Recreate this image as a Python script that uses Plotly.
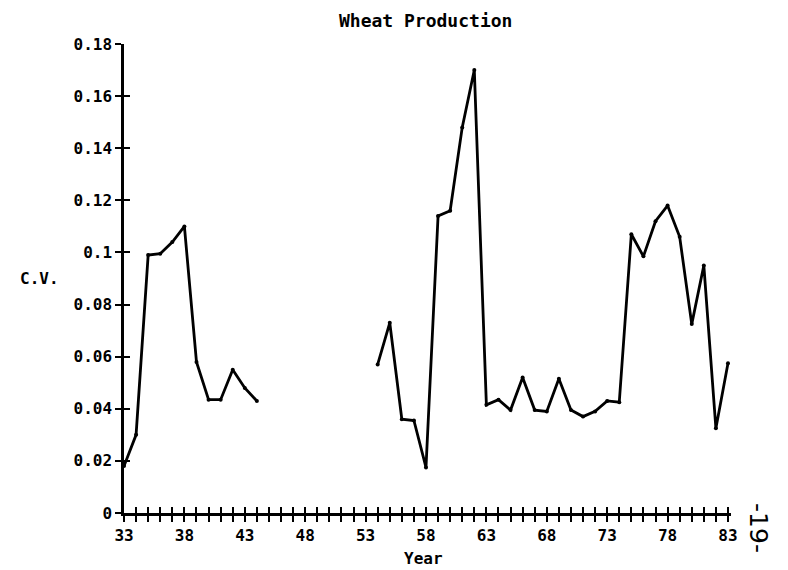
import plotly.graph_objects as go

years = list(range(33, 84))
cv = [0.018, 0.030, 0.099, 0.0995, 0.104, 0.110, 0.058, 0.0435, 0.0435, 0.055, 0.048, 0.043,
      None, None, None, None, None, None, None, None, None,
      0.057, 0.073, 0.036, 0.0355, 0.0175, 0.114, 0.116, 0.148, 0.170, 0.0415, 0.0435, 0.0395,
      0.052, 0.0395, 0.039, 0.0515, 0.0395, 0.037, 0.039, 0.043, 0.0425, 0.107, 0.0985, 0.112,
      0.118, 0.106, 0.0725, 0.095, 0.0325, 0.0575]
x_labels = [str(y) if (y - 33) % 5 == 0 else "" for y in years]
y_ticks = [0, 0.02, 0.04, 0.06, 0.08, 0.1, 0.12, 0.14, 0.16, 0.18]
y_labels = ["0", "0.02", "0.04", "0.06", "0.08", "0.1", "0.12", "0.14", "0.16", "0.18"]

MONO = "DejaVu Sans Mono"
tickfont = dict(family=MONO, size=16, color="black", weight=700)
X_RANGE = [33, 83.25]

fig = go.Figure()
fig.add_trace(go.Scatter(x=years, y=cv, mode="lines+markers",
                         line=dict(color="black", width=2.8),
                         marker=dict(size=4, color="black"),
                         connectgaps=False, showlegend=False, cliponaxis=False))
# helper trace so the overlay axes render
fig.add_trace(go.Scatter(x=[None], y=[None], xaxis="x2", yaxis="y2",
                         showlegend=False, hoverinfo="skip"))

axis_common = dict(showgrid=False, zeroline=False, showline=True, linecolor="black",
                   linewidth=2.5, tickcolor="black", tickwidth=2, ticklen=6)

fig.update_layout(
    width=788, height=570,
    margin=dict(l=124, r=57, t=44, b=57),
    paper_bgcolor="white", plot_bgcolor="white",
    xaxis=dict(range=X_RANGE, tickmode="array", tickvals=years, ticktext=x_labels,
               ticks="outside", tickfont=tickfont, **axis_common),
    xaxis2=dict(range=X_RANGE, tickmode="array", tickvals=years, ticktext=[""] * len(years),
                ticks="inside", overlaying="x", anchor="y", side="bottom",
                showticklabels=False, **axis_common),
    yaxis=dict(range=[0, 0.18], tickmode="array", tickvals=y_ticks, ticktext=y_labels,
               ticks="outside", tickfont=tickfont, **axis_common),
    yaxis2=dict(range=[0, 0.18], tickmode="array", tickvals=y_ticks, ticktext=[""] * len(y_ticks),
                ticks="inside", overlaying="y", anchor="x", side="left",
                showticklabels=False, **axis_common),
    annotations=[
        dict(text="Wheat Production", xref="paper", yref="paper", x=0.496, y=1.051,
             showarrow=False, xanchor="center", yanchor="middle",
             font=dict(family=MONO, size=18, color="black", weight=700)),
        dict(text="C.V.", xref="paper", yref="paper", x=-0.1395, y=0.501,
             showarrow=False, xanchor="center", yanchor="middle",
             font=dict(family=MONO, size=16, color="black", weight=700)),
        dict(text="Year", xref="paper", yref="paper", x=0.493, y=-0.096,
             showarrow=False, xanchor="center", yanchor="middle",
             font=dict(family=MONO, size=16, color="black", weight=700)),
        dict(text="-19-", xref="paper", yref="paper", x=1.046, y=-0.032,
             showarrow=False, xanchor="center", yanchor="middle", textangle=90,
             font=dict(family="DejaVu Sans", size=25, color="black")),
    ],
)

fig.write_html("out.html", config={"displayModeBar": False},
               post_script="document.body.style.margin='0';")
